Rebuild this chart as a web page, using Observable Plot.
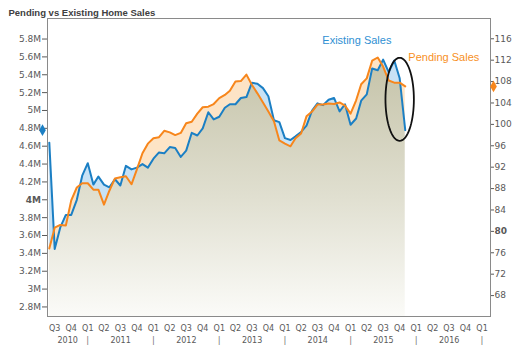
<!DOCTYPE html>
<html>
<head>
<meta charset="utf-8">
<script src="https://cdn.jsdelivr.net/npm/d3@7"></script>
<script src="https://cdn.jsdelivr.net/npm/@observablehq/plot@0.6"></script>
<style>
  body { margin: 0; background: #fff; }
  #chart { width: 525px; height: 357px; }
</style>
</head>
<body>
<div id="chart"></div>
<script>
// ---------------- data ----------------
const title = "Pending vs Existing Home Sales";
const labelExisting = "Existing Sales";
const labelPending = "Pending Sales";

// monthly, June 2010 .. November 2015
const firstMonth = [2010, 5];
const lastMonth = [2015, 10];

// Existing home sales (millions, SAAR) - left axis
const existing = [
  4.64, 3.45, 3.69, 3.83, 3.83, 4.00, 4.27, 4.41, 4.17, 4.26,
  4.17, 4.14, 4.23, 4.16, 4.38, 4.34, 4.36, 4.40, 4.36, 4.46,
  4.53, 4.52, 4.59, 4.58, 4.48, 4.55, 4.75, 4.72, 4.80, 4.98,
  4.90, 4.93, 5.03, 5.07, 5.07, 5.14, 5.15, 5.31, 5.30, 5.25,
  5.16, 4.89, 4.87, 4.69, 4.67, 4.71, 4.76, 4.83, 5.00, 5.08,
  5.06, 5.12, 5.14, 4.99, 5.07, 4.84, 4.91, 5.11, 5.18, 5.47,
  5.45, 5.57, 5.43, 5.56, 5.36, 4.78
];

// Pending home sales index - right axis
const pending = [
  76.8, 80.7, 81.2, 81.1, 85.8, 88.2, 89.0, 89.0, 87.8, 87.8,
  85.0, 87.6, 89.9, 90.1, 90.3, 88.8, 91.6, 94.6, 96.4, 97.4,
  97.6, 98.8, 98.5, 98.0, 98.4, 100.2, 100.5, 102.0, 103.2, 103.3,
  103.8, 104.9, 105.5, 106.3, 108.0, 108.1, 109.3, 107.4, 105.8, 104.1,
  102.4, 100.6, 97.0, 96.4, 95.9, 97.4, 98.3, 101.5, 102.4, 103.7,
  103.7, 103.9, 103.8, 104.1, 103.5, 102.0, 104.5, 107.5, 108.6, 111.9,
  112.5, 110.8, 108.2, 107.8, 107.8, 107.1
];

const leftTicks = [2.8, 3.0, 3.2, 3.4, 3.6, 3.8, 4.0, 4.2, 4.4, 4.6, 4.8, 5.0, 5.2, 5.4, 5.6, 5.8];
const leftBold = 4.0;
const rightTicks = [68, 72, 76, 80, 84, 88, 92, 96, 100, 104, 108, 112, 116];
const rightBold = 80;
const years = [2010, 2011, 2012, 2013, 2014, 2015, 2016];
const yearBreaks = [2011, 2012, 2013, 2014, 2015, 2016, 2017];

// ---------------- scales / layout ----------------
const W = 525, H = 357;
const yDomainM = [2.693, 6.03];
const yDomainP = [64.09, 119.79];
const xDomain = [new Date(Date.UTC(2010, 4, 22)), new Date(Date.UTC(2017, 1, 17))];

const pToM = p => yDomainM[0] + (p - yDomainP[0]) * (yDomainM[1] - yDomainM[0]) / (yDomainP[1] - yDomainP[0]);
const mToP = m => yDomainP[0] + (m - yDomainM[0]) * (yDomainP[1] - yDomainP[0]) / (yDomainM[1] - yDomainM[0]);
const fmtM = v => `${+v.toFixed(1)}M`;

const dates = d3.utcMonth.range(
  new Date(Date.UTC(firstMonth[0], firstMonth[1], 1)),
  new Date(Date.UTC(lastMonth[0], lastMonth[1] + 1, 1))
);
const data = dates.map((d, i) => ({date: d, e: existing[i], p: pending[i], pm: pToM(pending[i])}));

// fill geometry including line crossings
const fillData = [];
for (let i = 0; i < data.length; i++) {
  const a = data[i];
  fillData.push({date: a.date, e: a.e, pm: a.pm});
  if (i < data.length - 1) {
    const b = data[i + 1];
    const da = a.e - a.pm, db = b.e - b.pm;
    if (da * db < 0) {
      const t = da / (da - db);
      const v = a.e + t * (b.e - a.e);
      fillData.push({date: new Date(+a.date + t * (b.date - a.date)), e: v, pm: v});
    }
  }
}
fillData.forEach(d => d.lo = Math.min(d.e, d.pm));

const quarterDates = d3.utcMonth.every(3).range(new Date(Date.UTC(2010, 6, 1)), new Date(Date.UTC(2017, 1, 1)));
const yearMid = y => {
  const s = Math.max(Date.UTC(y, 0, 1), +xDomain[0]);
  const e = Math.min(Date.UTC(y + 1, 0, 1), +xDomain[1]);
  return new Date((s + e) / 2);
};

// annotation ellipse around the last months of existing sales
const tail = data.slice(-4);
const ellCx = +dates[dates.length - 2];
const ellRx = 79 * 864e5;
const ellTop = d3.max(tail, d => d.e) + 0.03;
const ellBot = d3.min(tail, d => d.e) - 0.12;
const ellipse = d3.range(0, 73).map(k => {
  const a = k / 72 * 2 * Math.PI;
  return {x: new Date(ellCx + ellRx * Math.cos(a)), y: (ellTop + ellBot) / 2 + (ellTop - ellBot) / 2 * Math.sin(a)};
});

const lastE = existing[existing.length - 1];
const lastP = pending[pending.length - 1];

const BLUE = "#1b7fc4", ORANGE = "#f7861c";

const chart = Plot.plot({
  width: W, height: H,
  marginLeft: 47, marginRight: 35, marginTop: 18, marginBottom: 41,
  style: {fontFamily: "'DejaVu Sans', sans-serif", fontSize: "9px", color: "#595959", background: "#fff", overflow: "visible"},
  x: {type: "utc", domain: xDomain},
  y: {domain: yDomainM},
  marks: [
    Plot.areaY(fillData, {x: "date", y1: yDomainM[0], y2: "lo", fill: "url(#beigeGrad)"}),
    Plot.areaY(fillData, {x: "date", y1: "lo", y2: "e", fill: "#c8e2f5"}),
    Plot.areaY(fillData, {x: "date", y1: "lo", y2: "pm", fill: "#fde4c6"}),
    Plot.lineY(data, {x: "date", y: "e", stroke: BLUE, strokeWidth: 2}),
    Plot.lineY(data, {x: "date", y: "pm", stroke: ORANGE, strokeWidth: 2}),
    Plot.line(ellipse, {x: "x", y: "y", stroke: "#111", strokeWidth: 1.8}),
    Plot.frame({stroke: "#8a8a8a"}),
    Plot.axisY(leftTicks.filter(v => v !== leftBold), {anchor: "left", tickSize: 5, tickPadding: 1.5, tickFormat: fmtM, label: null, fontSize: 9}),
    Plot.axisY([leftBold], {anchor: "left", tickSize: 5, tickPadding: 1.5, tickFormat: fmtM, label: null, fontSize: 9, fontWeight: "bold"}),
    Plot.axisY(rightTicks.filter(v => v !== rightBold).map(pToM), {anchor: "right", tickSize: 3, tickPadding: 1, tickFormat: v => Math.round(mToP(v)), label: null, fontSize: 9}),
    Plot.axisY([pToM(rightBold)], {anchor: "right", tickSize: 3, tickPadding: 1, tickFormat: v => Math.round(mToP(v)), label: null, fontSize: 9, fontWeight: "bold"}),
    Plot.axisX(quarterDates, {anchor: "bottom", tickSize: 0, tickPadding: 9, tickFormat: d => "Q" + (Math.floor(d.getUTCMonth() / 3) + 1), label: null, fontSize: 8}),
    Plot.text(years, {x: yearMid, frameAnchor: "bottom", dy: 26, lineAnchor: "bottom", text: d => String(d), fontSize: 8, fill: "#595959"}),
    Plot.text(yearBreaks, {x: y => new Date(Date.UTC(y, 0, 1)), frameAnchor: "bottom", dy: 26.5, lineAnchor: "bottom", text: () => "|", fontSize: 8.5, fill: "#777"}),
    Plot.dot([lastE], {frameAnchor: "left", y: d => d, dx: -5, symbol: "diamond", r: 3.5, fill: BLUE}),
    Plot.dot([lastP], {frameAnchor: "right", y: d => pToM(d), dx: 3, symbol: "diamond", r: 3.5, fill: ORANGE}),
    Plot.text([labelExisting], {x: () => new Date(Date.UTC(2014, 6, 28)), y: () => 5.75, text: d => d, textAnchor: "start", lineAnchor: "bottom", fontFamily: "'Liberation Sans', sans-serif", fontSize: 11, fill: "#2f90d3"}),
    Plot.text([labelPending], {x: () => new Date(Date.UTC(2015, 10, 18)), y: () => 5.55, text: d => d, textAnchor: "start", lineAnchor: "bottom", fontFamily: "'Liberation Sans', sans-serif", fontSize: 11, fill: "#f7901e"}),
    Plot.text([title], {frameAnchor: "top-left", dx: -39, dy: -3, lineAnchor: "bottom", textAnchor: "start", text: d => d, fontFamily: "'Liberation Sans', sans-serif", fontWeight: "bold", fontSize: 9.5, fill: "#404040"})
  ]
});

const NS = "http://www.w3.org/2000/svg";
const defs = document.createElementNS(NS, "defs");
defs.innerHTML = `<linearGradient id="beigeGrad" gradientUnits="userSpaceOnUse" x1="0" y1="50" x2="0" y2="316">
  <stop offset="0" stop-color="#c3c1a6"/><stop offset="0.55" stop-color="#e0dfd0"/><stop offset="1" stop-color="#fbfbf8"/></linearGradient>`;
chart.insertBefore(defs, chart.firstChild);
document.getElementById("chart").appendChild(chart);
</script>
</body>
</html>
